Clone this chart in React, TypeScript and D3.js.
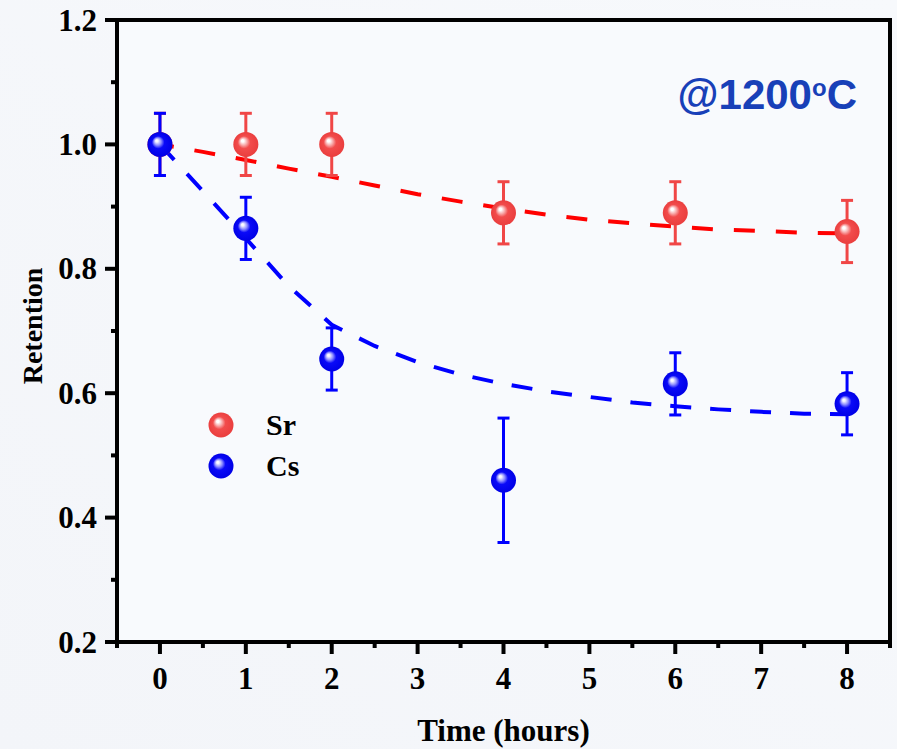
import React from "react";
import * as d3 from "d3";

// Measured retention after heating at 1200 °C
const hours = [0, 1, 2, 4, 6, 8];
const srRetention = [1.0, 1.0, 1.0, 0.89, 0.89, 0.86];
const srError = [0.05, 0.05, 0.05, 0.05, 0.05, 0.05];
const csRetention = [1.0, 0.865, 0.655, 0.46, 0.615, 0.583];
const csError = [0.05, 0.05, 0.05, 0.1, 0.05, 0.05];

// Fitted trend curves, sampled every half hour
const fitHours = [0, 0.5, 1, 1.5, 2, 2.5, 3, 3.5, 4, 4.5, 5, 5.5, 6, 6.5, 7, 7.5, 8];
const srFit = [1.0, 0.988, 0.975, 0.961, 0.948, 0.934, 0.92, 0.908, 0.897, 0.887, 0.879, 0.873, 0.868, 0.863, 0.861, 0.858, 0.857];
const csFit = [1.0, 0.925, 0.849, 0.772, 0.71, 0.676, 0.65, 0.63, 0.615, 0.603, 0.594, 0.585, 0.579, 0.574, 0.57, 0.567, 0.566];

const xMajorTicks = [0, 1, 2, 3, 4, 5, 6, 7, 8];
const xMinorTicks = [-0.5, 0.5, 1.5, 2.5, 3.5, 4.5, 5.5, 6.5, 7.5, 8.5];
const yMajorTicks = [0.2, 0.4, 0.6, 0.8, 1.0, 1.2];
const yMinorTicks = [0.3, 0.5, 0.7, 0.9, 1.1];

const seriesNames = ["Sr", "Cs"];

const W = 897;
const H = 749;
const left = 117;
const right = 890;
const top = 20;
const bottom = 642;

const serif = "'Liberation Serif', 'Times New Roman', serif";
const sans = "'Liberation Sans', Arial, sans-serif";

export default function App() {
  const x = d3.scaleLinear().domain([-0.5, 8.5]).range([left, right]);
  const y = d3.scaleLinear().domain([0.2, 1.2]).range([bottom, top]);
  const fmt = d3.format(".1f");

  const line = d3
    .line<number>()
    .x((_, i) => x(fitHours[i]))
    .y((d) => y(d))
    .curve(d3.curveLinear);

  const series = [
    { name: seriesNames[0], values: srRetention, errors: srError, fit: srFit, bar: "#f04646", lineColor: "#ff0000", grad: "gradSr", dash: "21 21", offset: 7 },
    { name: seriesNames[1], values: csRetention, errors: csError, fit: csFit, bar: "#0000ff", lineColor: "#0000ff", grad: "gradCs", dash: "21 19", offset: 0 },
  ];

  const r = 12.5;
  const cap = 6;

  return (
    <svg
      width={W}
      height={H}
      style={{ position: "fixed", left: 0, top: 0, display: "block" }}
      viewBox={`0 0 ${W} ${H}`}
    >
      <defs>
        <linearGradient id="bg" x1="0" y1="1" x2="1" y2="0">
          <stop offset="0" stopColor="#f3f5f9" />
          <stop offset="1" stopColor="#f7f9fc" />
        </linearGradient>
        <radialGradient id="gradSr" cx="0.5" cy="0.5" r="0.5" fx="0.36" fy="0.34">
          <stop offset="0" stopColor="#ffffff" />
          <stop offset="0.1" stopColor="#ffffff" />
          <stop offset="0.3" stopColor="#f8a8a8" />
          <stop offset="0.5" stopColor="#f24c4c" />
          <stop offset="1" stopColor="#ea3e3e" />
        </radialGradient>
        <radialGradient id="gradCs" cx="0.5" cy="0.5" r="0.5" fx="0.36" fy="0.34">
          <stop offset="0" stopColor="#ffffff" />
          <stop offset="0.1" stopColor="#f4f4ff" />
          <stop offset="0.3" stopColor="#8c8cff" />
          <stop offset="0.5" stopColor="#0a0af8" />
          <stop offset="1" stopColor="#0000e6" />
        </radialGradient>
      </defs>

      <rect x={0} y={0} width={W} height={H} fill="url(#bg)" />
      <rect x={left} y={top} width={right - left} height={bottom - top} fill="#f8fafd" />

      {/* fitted curves */}
      {series.map((s) => (
        <path
          key={s.name + "fit"}
          d={line(s.fit) || ""}
          fill="none"
          stroke={s.lineColor}
          strokeWidth={4}
          strokeDasharray={s.dash}
          strokeDashoffset={s.offset}
        />
      ))}

      {/* error bars */}
      {series.map((s) => (
        <g key={s.name + "err"} stroke={s.bar} strokeWidth={3}>
          {hours.map((h, i) => {
            const cx = x(h);
            const y1 = y(s.values[i] + s.errors[i]);
            const y2 = y(s.values[i] - s.errors[i]);
            return (
              <g key={i}>
                <line x1={cx} x2={cx} y1={y1} y2={y2} />
                <line x1={cx - cap} x2={cx + cap} y1={y1} y2={y1} />
                <line x1={cx - cap} x2={cx + cap} y1={y2} y2={y2} />
              </g>
            );
          })}
        </g>
      ))}

      {/* markers */}
      {series.map((s) => (
        <g key={s.name + "pts"}>
          {hours.map((h, i) => (
            <circle key={i} cx={x(h)} cy={y(s.values[i])} r={r} fill={`url(#${s.grad})`} />
          ))}
        </g>
      ))}

      {/* frame */}
      <rect
        x={left}
        y={top}
        width={right - left}
        height={bottom - top}
        fill="none"
        stroke="#000"
        strokeWidth={4}
      />

      {/* ticks */}
      <g stroke="#000" strokeWidth={4}>
        {xMajorTicks.map((t) => (
          <line key={"xM" + t} x1={x(t)} x2={x(t)} y1={bottom} y2={bottom + 12} />
        ))}
        {xMinorTicks.map((t) => (
          <line key={"xm" + t} x1={x(t)} x2={x(t)} y1={bottom} y2={bottom + 6} />
        ))}
        {yMajorTicks.map((t) => (
          <line key={"yM" + t} x1={left - 12} x2={left} y1={y(t)} y2={y(t)} />
        ))}
        {yMinorTicks.map((t) => (
          <line key={"ym" + t} x1={left - 6} x2={left} y1={y(t)} y2={y(t)} />
        ))}
      </g>

      <g fontFamily={serif} fontWeight="bold" fontSize={31} fill="#000">
        {xMajorTicks.map((t) => (
          <text key={"xl" + t} x={x(t)} y={689} textAnchor="middle">
            {t}
          </text>
        ))}
        {yMajorTicks.map((t) => (
          <text key={"yl" + t} x={97} y={y(t)} dy="0.34em" textAnchor="end">
            {fmt(t)}
          </text>
        ))}
        <text x={(left + right) / 2} y={741} textAnchor="middle">
          Time (hours)
        </text>
        <text
          transform={`translate(42, ${(top + bottom) / 2 - 5}) rotate(-90)`}
          textAnchor="middle"
          fontSize={28}
        >
          Retention
        </text>
      </g>

      {/* legend */}
      {series.map((s, i) => (
        <g key={s.name + "leg"}>
          <circle cx={221} cy={425 + i * 41} r={r} fill={`url(#${s.grad})`} />
          <text
            x={266}
            y={435 + i * 41}
            fontFamily={serif}
            fontWeight="bold"
            fontSize={30}
            fill="#000"
          >
            {s.name}
          </text>
        </g>
      ))}

      {/* temperature annotation */}
      <text
        x={857}
        y={109}
        textAnchor="end"
        fontFamily={sans}
        fontWeight="bold"
        fontSize={42}
        fill="#1840b8"
      >
        @1200
        <tspan fontSize={24} dy={-13}>o</tspan>
        <tspan dy={13}>C</tspan>
      </text>
    </svg>
  );
}
